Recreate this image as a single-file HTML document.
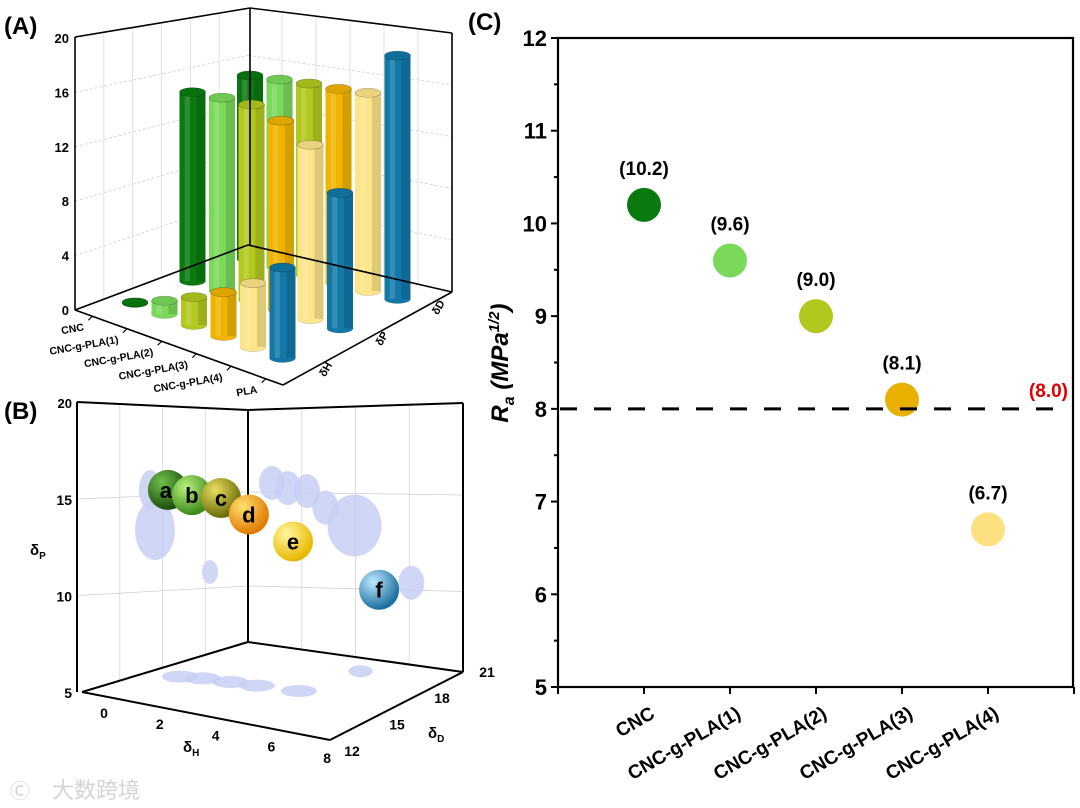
<!DOCTYPE html>
<html><head><meta charset="utf-8">
<style>
html,body{margin:0;padding:0;background:#fff;}
svg{display:block;font-family:"Liberation Sans","Noto Sans CJK SC",sans-serif;}
</style></head>
<body>
<svg id="fig" width="1080" height="808" viewBox="0 0 1080 808">
<defs>
  <radialGradient id="gA" cx="35%" cy="30%" r="70%"><stop offset="0" stop-color="#6fbf4a"/><stop offset="1" stop-color="#1d4d0e"/></radialGradient>
  <radialGradient id="gB" cx="35%" cy="30%" r="70%"><stop offset="0" stop-color="#b8f07a"/><stop offset="1" stop-color="#3c8a1c"/></radialGradient>
  <radialGradient id="gC" cx="35%" cy="30%" r="70%"><stop offset="0" stop-color="#e8e060"/><stop offset="1" stop-color="#6b6a08"/></radialGradient>
  <radialGradient id="gD" cx="35%" cy="30%" r="70%"><stop offset="0" stop-color="#ffe070"/><stop offset="1" stop-color="#e07a00"/></radialGradient>
  <radialGradient id="gE" cx="35%" cy="30%" r="70%"><stop offset="0" stop-color="#fff7a0"/><stop offset="1" stop-color="#e8b800"/></radialGradient>
  <radialGradient id="gF" cx="35%" cy="30%" r="70%"><stop offset="0" stop-color="#bfe8ff"/><stop offset="1" stop-color="#1a6ea0"/></radialGradient>
</defs>

<g id="panelA">
  <text x="4" y="34" font-size="24" font-weight="bold">(A)</text>
  <g id="aGrid"></g>
  <g id="aBars"></g>
  <g id="aAxes"></g>
</g>

<g id="panelB">
  <text x="4" y="419" font-size="24" font-weight="bold">(B)</text>
  <g id="bBox"></g>
  <g id="bShadows"></g>
  <g id="bPts"></g>
</g>

<g id="panelC">
  <text x="468" y="30" font-size="24" font-weight="bold">(C)</text>
  <g id="cAxes"></g>
  <g id="cPts"></g>
  <text transform="translate(508,363) rotate(-90)" text-anchor="middle" font-size="24" font-weight="bold" font-style="italic">R<tspan font-size="16" dy="6">a</tspan><tspan dy="-6"> (MPa</tspan><tspan font-size="15" dy="-9">1/2</tspan><tspan dy="9">)</tspan></text>
</g>

<text x="52" y="798" font-size="22" fill="#d4d4d4" font-family="'Noto Sans CJK SC',sans-serif">大数跨境</text>
<text x="10" y="798" font-size="20" fill="#d4d4d4">Ⓒ</text>
</svg>

<script>
const NS='http://www.w3.org/2000/svg';
function mk(tag,attrs,parent,txt){const e=document.createElementNS(NS,tag);for(const k in attrs)e.setAttribute(k,attrs[k]);if(txt!==undefined)e.textContent=txt;parent.appendChild(e);return e;}

/* ===== Panel A data ===== */
const aSamples=['CNC','CNC-g-PLA(1)','CNC-g-PLA(2)','CNC-g-PLA(3)','CNC-g-PLA(4)','PLA'];
const aDeltaH=[0.05,1.0,2.1,3.3,4.8,6.8];
const aDeltaP=[14.2,14.5,14.7,14.2,13.1,10.2];
const aDeltaD=[13.8,14.1,14.4,14.6,14.9,18.3];
const aColors=['#0a7a10','#7ad85a','#b3c81e','#f0b400','#fde58a','#1278a8'];
const aTicks=[0,4,8,12,16,20];

/* ===== Panel B data ===== */
const bLabels=['a','b','c','d','e','f'];
const bDeltaH=[0.93,1.73,2.7,3.63,5.1,7.97];
const bDeltaP=[15.47,15.2,15.05,14.2,12.8,10.3];
const bDeltaD=[18.3,18.2,18.0,17.8,17.5,18.6];
const bFills=['url(#gA)','url(#gB)','url(#gC)','url(#gD)','url(#gE)','url(#gF)'];
const bPTicks=[5,10,15,20];
const bHTicks=[0,2,4,6,8];
const bDTicks=[12,15,18,21];

/* ===== Panel C data ===== */
const cCats=['CNC','CNC-g-PLA(1)','CNC-g-PLA(2)','CNC-g-PLA(3)','CNC-g-PLA(4)'];
const cVals=[10.2,9.6,9.0,8.1,6.7];
const cLabels=['(10.2)','(9.6)','(9.0)','(8.1)','(6.7)'];
const cColors=['#0a7a10','#7ad85a','#b3c81e','#e8b000','#fde080'];
const cYTicks=[5,6,7,8,9,10,11,12];
const cRef=8.0;

/* ---------- Panel A drawing ---------- */
(function(){
  const gG=document.getElementById('aGrid'),gB=document.getElementById('aBars'),gA=document.getElementById('aAxes');
  function base(i,j){return [135+29.5*i+57.5*j, 303+(11-1.5*j)*i-22*j];}
  const S=13.3;
  const ly=v=>310-v*13.6;
  aTicks.forEach((t,i)=>{
    if(i===0)return;
    const y1=ly(t),yb=245-t*11.85,yr=292-t*12.95;
    let l=mk('line',{x1:75,y1:y1,x2:248,y2:yb,stroke:'#cfcfcf','stroke-width':0.8,'stroke-dasharray':'3 2'},gG);
    
    l=mk('line',{x1:248,y1:yb,x2:452,y2:yr,stroke:'#cfcfcf','stroke-width':0.8,'stroke-dasharray':'3 2'},gG);
    
  });
  for(let k=1;k<6;k++){
    const x=75+k*(248-75)/6,yt=37+k*(8-37)/6,yb=310+k*(245-310)/6;
    let l=mk('line',{x1:x,y1:yt,x2:x,y2:yb,stroke:'#dadada','stroke-width':0.8},gG);
    
    const x2=248+k*(452-248)/6,yt2=8+k*(33-8)/6,yb2=245+k*(292-245)/6;
    l=mk('line',{x1:x2,y1:yt2,x2:x2,y2:yb2,stroke:'#dadada','stroke-width':0.8},gG);
    
  }
  const frames=[[75,37,75,310],[75,37,250,8],[250,8,452,33],[452,33,452,292],[250,8,250,245],[75,310,283,385],[283,385,452,292],[75,310,248,245],[248,245,452,292]];
  frames.forEach(f=>{const l=mk('line',{x1:f[0],y1:f[1],x2:f[2],y2:f[3],stroke:'#000','stroke-width':1.6},gA);
    });
  aTicks.forEach(t=>{const y=ly(t);
    const tx=mk('text',{x:69,y:y+5,'text-anchor':'end','font-size':13,'font-weight':'bold'},gA,String(t));
    });
  const rows=[[aDeltaD,2],[aDeltaP,1],[aDeltaH,0]];
  rows.forEach(([vals,j])=>{
    vals.forEach((v,i)=>{
      const p=base(i,j);const h=v*S;
      const rx=13,ry=4.5,col=aColors[i];
      const g=mk('g',{},gB);
      
      
      mk('ellipse',{cx:p[0],cy:p[1],rx:rx,ry:ry,fill:col,stroke:'rgba(0,0,0,0.25)','stroke-width':0.5},g);
      mk('rect',{x:p[0]-rx,y:p[1]-h,width:2*rx,height:h,fill:col},g);
      mk('rect',{x:p[0]+rx*0.3,y:p[1]-h,width:rx*0.7,height:h,fill:'rgba(0,0,0,0.12)'},g);
      mk('rect',{x:p[0]-rx*0.6,y:p[1]-h,width:rx*0.4,height:h,fill:'rgba(255,255,255,0.15)'},g);
      mk('ellipse',{cx:p[0],cy:p[1]-h,rx:rx,ry:ry,fill:col,stroke:'rgba(0,0,0,0.3)','stroke-width':0.6},g);
      mk('ellipse',{cx:p[0],cy:p[1]-h,rx:rx,ry:ry,fill:'rgba(0,0,0,0.08)'},g);
    });
  });
  const L=[75,310],F=[283,385],R=[452,292];
  aSamples.forEach((s,i)=>{
    const t=(i+0.5)/6;const x=L[0]+t*(F[0]-L[0])-8,y=L[1]+t*(F[1]-L[1])+14;
    const tick=mk('line',{x1:x+8,y1:y-14,x2:x+4,y2:y-10,stroke:'#000','stroke-width':1.2},gA);
    
    const tx=mk('text',{x:x,y:y,'text-anchor':'end','font-size':10.5,'font-weight':'bold',transform:`rotate(-10 ${x} ${y})`},gA,s);
    
  });
  const dl=['δH','δP','δD'];
  dl.forEach((s,j)=>{
    const d=(j+0.5)/3;const x=F[0]+d*(R[0]-F[0])+14,y=F[1]+d*(R[1]-F[1])+8;
    const tx=mk('text',{x:x,y:y,'font-size':11,'font-weight':'bold',transform:`rotate(-60 ${x} ${y})`},gA,s);
    
  });
})();

/* ---------- Panel B drawing ---------- */
(function(){
  const box=document.getElementById('bBox'),sh=document.getElementById('bShadows'),pts=document.getElementById('bPts');
  const yP=p=>692-(p-5)*19.3;
  const xH=h=>140+30*h;
  [10,15].forEach(p=>{
    let l=mk('line',{x1:78,y1:yP(p),x2:248,y2:yP(p)-12+(p-5)*0.5,stroke:'#cfcfcf','stroke-width':0.8},box);
    
    l=mk('line',{x1:248,y1:yP(p)-12+(p-5)*0.5,x2:463,y2:yP(p)-4,stroke:'#cfcfcf','stroke-width':0.8},box);
    
  });
  for(let k=1;k<4;k++){
    const x=77+k*(248-77)/4;let l=mk('line',{x1:x,y1:402+k*2,x2:x,y2:692-k*12.5,stroke:'#d6d6d6','stroke-width':0.8},box);
    
    const x2=248+k*(463-248)/4;l=mk('line',{x1:x2,y1:410-k*2,x2:x2,y2:642+k*7.5,stroke:'#d6d6d6','stroke-width':0.8},box);
    
  }
  const fr=[[77,402,77,692],[77,402,248,410],[248,410,463,403],[463,403,463,672],[248,410,248,642],[82,692,330,740],[330,740,463,672],[82,692,248,642],[248,642,463,672]];
  fr.forEach(f=>{const l=mk('line',{x1:f[0],y1:f[1],x2:f[2],y2:f[3],stroke:'#000','stroke-width':2},box);
    });
  bPTicks.forEach(p=>{let y=p===20?402:yP(p);
    const t=mk('text',{x:72,y:y+6,'text-anchor':'end','font-size':p===20?13:14,'font-weight':'bold'},box,String(p));
    });
  bHTicks.forEach(h=>{const x=104+h*27.9,y=718+h*5.6;
    const t=mk('text',{x:x,y:y,'text-anchor':'middle','font-size':14,'font-weight':'bold'},box,String(h));
    });
  bDTicks.forEach(d=>{const x=352+(d-12)*15,y=756-(d-12)*8.8;
    const t=mk('text',{x:x,y:y,'text-anchor':'middle','font-size':14,'font-weight':'bold'},box,String(d));
    });
  let t=mk('text',{x:30,y:555,'font-size':15,'font-weight':'bold'},box,'δ');mk('tspan',{'font-size':10,dy:4},t,'P');
  
  t=mk('text',{x:183,y:752,'font-size':15,'font-weight':'bold'},box,'δ');mk('tspan',{'font-size':10,dy:4},t,'H');
  
  t=mk('text',{x:428,y:738,'font-size':15,'font-weight':'bold'},box,'δ');mk('tspan',{'font-size':10,dy:4},t,'D');
  
  // shadows
  bDeltaH.forEach((h,i)=>{
    const X=xH(h),Y=yP(bDeltaP[i]);
    const big=(i===4);
    let e=mk('ellipse',{cx:272+0.66*(X-168),cy:Y-(big?16:7),rx:big?27:13,ry:big?31:17,fill:'#c8cff5',opacity:0.85},sh);
    
    e=mk('ellipse',{cx:180+0.95*(X-168)+(i===5?-20:0),cy:700-(bDeltaD[i]-17)*18,rx:i===5?12:18,ry:6,fill:'#c8cff5',opacity:0.85},sh);
    
  });
  [[150,490,11,20],[155,530,20,30],[210,572,8,12]].forEach(a=>{
    const e=mk('ellipse',{cx:a[0],cy:a[1],rx:a[2],ry:a[3],fill:'#c8cff5',opacity:0.85},sh);
    });
  bDeltaH.forEach((h,i)=>{
    const cx=xH(h),cy=yP(bDeltaP[i]);
    const g=mk('g',{},pts);
    
    mk('circle',{cx:cx,cy:cy,r:20,fill:bFills[i]},g);
    mk('text',{x:cx-(i===0?2:0),y:cy+8,'text-anchor':'middle','font-size':22,'font-weight':'bold'},g,bLabels[i]);
  });
})();

/* ---------- Panel C drawing ---------- */
(function(){
  const ax=document.getElementById('cAxes'),pg=document.getElementById('cPts');
  const X0=558,X1=1073,Y0=687,Y1=38;
  const yS=v=>Y0-(v-5)*(Y0-Y1)/7;
  const xS=i=>X0+(i+1)*86;
  let r=mk('rect',{x:X0,y:Y1,width:X1-X0,height:Y0-Y1,fill:'none',stroke:'#000','stroke-width':2.2},ax);
  
  cYTicks.forEach(v=>{
    const y=yS(v);
    let l=mk('line',{x1:X0-7,y1:y,x2:X0,y2:y,stroke:'#000','stroke-width':2},ax);
    
    if(v<12){l=mk('line',{x1:X0-4,y1:yS(v+0.5),x2:X0,y2:yS(v+0.5),stroke:'#000','stroke-width':2},ax);
      }
    const t=mk('text',{x:X0-11,y:y+8,'text-anchor':'end','font-size':22,'font-weight':'bold'},ax,String(v));
    
  });
  for(let k=0;k<=6;k++){
    const l=mk('line',{x1:X0+k*86,y1:Y0,x2:X0+k*86,y2:Y0+7,stroke:'#000','stroke-width':2},ax);
    
  }
  cCats.forEach((c,i)=>{
    const x=xS(i)+12,y=Y0+30;
    const t=mk('text',{x:x,y:y,'text-anchor':'end','font-size':19,'font-weight':'bold',transform:`rotate(-30 ${x} ${y})`},ax,c);
    
  });
  cVals.forEach((v,i)=>{
    const c=mk('circle',{cx:xS(i),cy:yS(v),r:17,fill:cColors[i]},pg);
    
    
    const t=mk('text',{x:xS(i),y:yS(v)-30,'text-anchor':'middle','font-size':19,'font-weight':'bold'},pg,cLabels[i]);
    
  });
  const dl=mk('line',{x1:X0+2,y1:yS(cRef),x2:X1-5,y2:yS(cRef),stroke:'#000','stroke-width':3,'stroke-dasharray':'17 17'},pg);
  
  const rt=mk('text',{x:1068,y:yS(cRef)-12,'text-anchor':'end','font-size':19,'font-weight':'bold',fill:'#e00000'},pg,'('+cRef.toFixed(1)+')');
  
})();
</script>
</body></html>
